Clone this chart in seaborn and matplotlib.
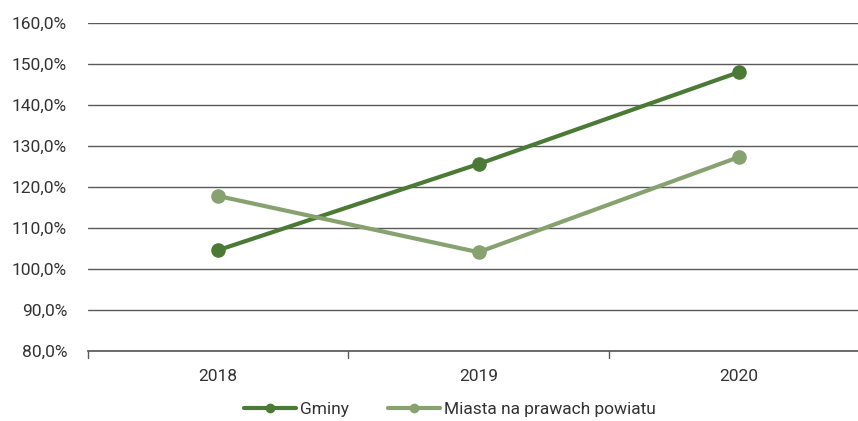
import matplotlib
matplotlib.use("Agg")
import matplotlib.pyplot as plt
import seaborn as sns
import pandas as pd
from matplotlib.ticker import FuncFormatter, MultipleLocator

years = ["2018", "2019", "2020"]
gminy = [104.6, 125.6, 148.0]
miasta = [117.8, 104.1, 127.3]
series_names = ["Gminy", "Miasta na prawach powiatu"]

df = pd.DataFrame({
    "rok": years * 2,
    "wartosc": gminy + miasta,
    "seria": [series_names[0]] * 3 + [series_names[1]] * 3,
})

sns.set_theme(style="white")
plt.rcParams["font.family"] = ["Roboto", "DejaVu Sans"]

fig = plt.figure(figsize=(8.58, 4.21), dpi=100)
ax = fig.add_axes([88 / 858, 70 / 421, 781 / 858, 328 / 421])

palette = {series_names[0]: "#4a7a35", series_names[1]: "#88a170"}
sns.lineplot(data=df, x="rok", y="wartosc", hue="seria", palette=palette,
             marker="o", markersize=10.5, markeredgewidth=0, linewidth=3,
             ax=ax, legend=True, sort=False)

ax.set_xlim(-0.5, 2.5)
ax.set_ylim(80, 160)
ax.yaxis.set_major_locator(MultipleLocator(10))
ax.yaxis.set_major_formatter(FuncFormatter(lambda v, _: f"{v:.1f}%".replace(".", ",")))
ax.grid(axis="y", color="#5a5a5a", linewidth=1)
ax.set_axisbelow(True)
for s in ["top", "right", "left"]:
    ax.spines[s].set_visible(False)
ax.spines["bottom"].set_color("#5a5a5a")
ax.set_xlabel("")
ax.set_ylabel("")
ax.tick_params(axis="y", length=0, pad=15, labelsize=12.5, labelcolor="#333333")
ax.tick_params(axis="x", length=0, pad=13, labelsize=12.5, labelcolor="#333333")
for xt in [-0.5, 0.5, 1.5, 2.5]:
    ax.plot([xt, xt], [80, 78.3], color="#5a5a5a", lw=1, clip_on=False, zorder=1)

handles, labels = ax.get_legend_handles_labels()
for h in handles:
    h.set_markersize(7)
ax.legend(handles, labels, loc="center", bbox_to_anchor=(450 / 858 * 858 / 781 - 88 / 781, -58 / 328),
          ncol=2, frameon=False, fontsize=12.5, handlelength=3.0, columnspacing=2.2,
          handletextpad=0.25, labelcolor="#333333")

fig.savefig("out.png", dpi=100)
